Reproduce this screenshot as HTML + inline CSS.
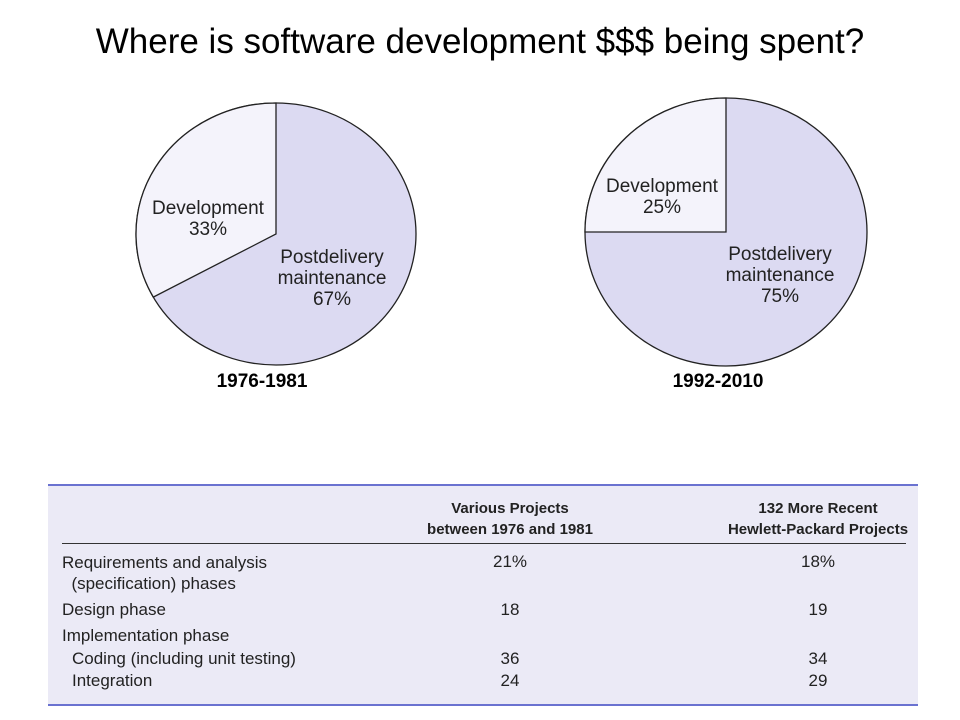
<!DOCTYPE html>
<html><head><meta charset="utf-8"><style>
body{margin:0;width:960px;height:720px;background:#fff;position:relative;overflow:hidden;font-family:"Liberation Sans",sans-serif;}
#title{position:absolute;left:0;width:960px;top:22px;text-align:center;font-size:35px;color:#000;}
#tbl{position:absolute;left:48px;top:484px;width:870px;height:218px;background:#ebeaf6;border-top:2px solid #6a72d0;border-bottom:2px solid #6a72d0;}
.c{font-size:17px;color:#222;position:absolute;white-space:nowrap;}
.h{font-weight:bold;font-size:15px;}
.m{transform:translateX(-50%);text-align:center;}
</style></head><body>
<div id="title">Where is software development $$$ being spent?</div>
<svg width="960" height="460" style="position:absolute;left:0;top:0">
<g id="pies" font-family="Liberation Sans, sans-serif" font-size="19" fill="#222"></g>
</svg>
<div id="tbl">
<div style="position:absolute;left:14px;right:12px;top:57px;height:1px;background:#333"></div>
<div class="c m h" style="left:462px;top:12px;line-height:21px">Various Projects<br>between 1976 and 1981</div>
<div class="c m h" style="left:770px;top:12px;line-height:21px">132 More Recent<br>Hewlett-Packard Projects</div>
<div class="c" style="left:14px;top:66px;line-height:21px">Requirements and analysis<br>&nbsp;&nbsp;(specification) phases</div>
<div class="c m" style="left:462px;top:66px">21%</div>
<div class="c m" style="left:770px;top:66px">18%</div>
<div class="c" style="left:14px;top:114px">Design phase</div>
<div class="c m" style="left:462px;top:114px">18</div>
<div class="c m" style="left:770px;top:114px">19</div>
<div class="c" style="left:14px;top:140px">Implementation phase</div>
<div class="c" style="left:24px;top:163px">Coding (including unit testing)</div>
<div class="c m" style="left:462px;top:163px">36</div>
<div class="c m" style="left:770px;top:163px">34</div>
<div class="c" style="left:24px;top:185px">Integration</div>
<div class="c m" style="left:462px;top:185px">24</div>
<div class="c m" style="left:770px;top:185px">29</div>
</div>
<script>
const periods=["1976-1981","1992-2010"];
const devShare=[33,25];
const maintShare=[67,75];
const NS="http://www.w3.org/2000/svg";
const g=document.getElementById('pies');
const geo=[{cx:276,cy:234,rx:140,ry:131,dl:[208,214],ml:[332,263],cap:262},{cx:726,cy:232,rx:141,ry:134,dl:[662,192],ml:[780,260],cap:718}];
function mk(tag,attrs){const e=document.createElementNS(NS,tag);for(const k in attrs)e.setAttribute(k,attrs[k]);g.appendChild(e);return e;}
function pt(p,frac){const a=frac*2*Math.PI;return [p.cx-Math.sin(a)*p.rx,p.cy-Math.cos(a)*p.ry];}
periods.forEach((per,i)=>{
  const p=geo[i];
  const el=mk('ellipse',{cx:p.cx,cy:p.cy,rx:p.rx,ry:p.ry,fill:'#dcdaf2',stroke:'#222','stroke-width':1.3});
  
  
  const f=devShare[i]/100;
  const e=pt(p,f);
  const large=f>0.5?1:0;
  const d=`M${p.cx},${p.cy} L${p.cx},${p.cy-p.ry} A${p.rx},${p.ry} 0 ${large} 0 ${e[0]},${e[1]} Z`;
  const s=mk('path',{d:d,fill:'#f4f3fb',stroke:'#222','stroke-width':1.3});
  
  
  const lines=[[p.dl[0],p.dl[1],['Development',devShare[i]+'%'],'dev-label-'+per],[p.ml[0],p.ml[1],['Postdelivery','maintenance',maintShare[i]+'%'],'maint-label-'+per]];
  lines.forEach(L=>{
    const t=mk('text',{x:L[0],y:L[1],'text-anchor':'middle'});
    
    
    L[2].forEach((s2,j)=>{const ts=document.createElementNS(NS,'tspan');ts.setAttribute('x',L[0]);if(j)ts.setAttribute('dy',21);ts.textContent=s2;t.appendChild(ts);});
  });
  const cap=mk('text',{x:p.cap,y:387,'text-anchor':'middle','font-weight':'bold','font-size':19,fill:'#000'});
  
  
  cap.textContent=per;
});
</script>
</body></html>
